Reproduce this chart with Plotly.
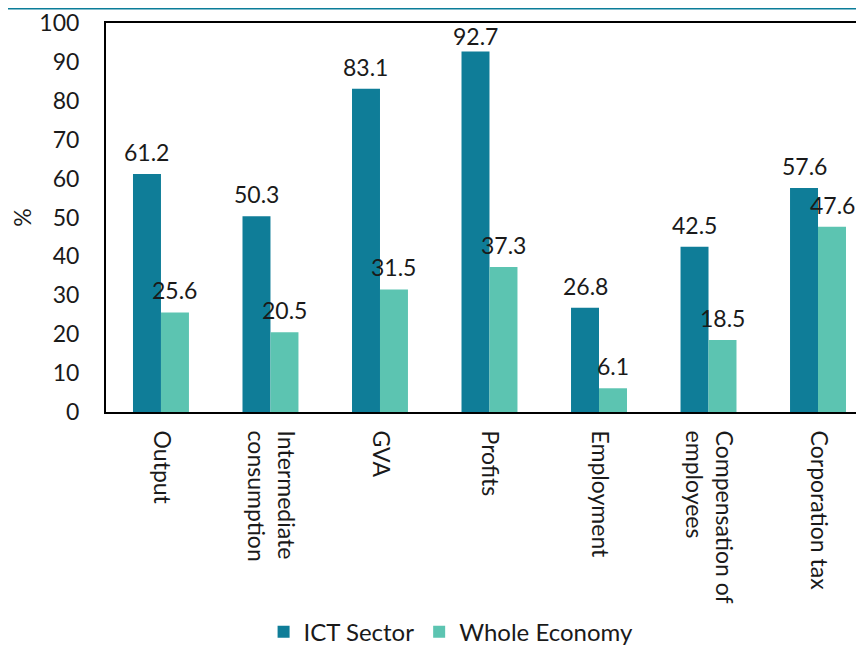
import plotly.graph_objects as go

categories = ["Output", "Intermediate<br>consumption", "GVA", "Profits", "Employment",
              "Compensation of<br>employees", "Corporation tax"]
ict_sector = [61.2, 50.3, 83.1, 92.7, 26.8, 42.5, 57.6]
whole_economy = [25.6, 20.5, 31.5, 37.3, 6.1, 18.5, 47.6]
y_ticks = [0, 10, 20, 30, 40, 50, 60, 70, 80, 90, 100]

ICT_COLOR = "#0f7d98"
WHOLE_COLOR = "#5cc4b1"
FONT = "Lato, 'Open Sans', sans-serif"
TXT = "#1a1a1a"
FS = 23

fig = go.Figure()
fig.add_trace(go.Bar(name="ICT Sector", x=categories, y=ict_sector,
                     marker=dict(color=ICT_COLOR, line=dict(width=0))))
fig.add_trace(go.Bar(name="Whole Economy", x=categories, y=whole_economy,
                     marker=dict(color=WHOLE_COLOR, line=dict(width=0))))

# value labels above each bar (the tallest one is tucked under the frame)
for series, shift in ((ict_sector, -14), (whole_economy, 14)):
    for cat, val in zip(categories, series):
        fig.add_annotation(x=cat, y=val, text=f"{val:.1f}", showarrow=False,
                           xshift=shift, yshift=22 if val < 90 else 15,
                           font=dict(family=FONT, size=FS, color=TXT))

PLOT_H = 389
# teal rule across the top of the page
fig.add_shape(type="line", xref="paper", yref="paper",
              x0=-0.3, x1=1.0, y0=1 + 14.5 / PLOT_H, y1=1 + 14.5 / PLOT_H,
              line=dict(color="#0b7d99", width=2))

fig.update_layout(
    width=864, height=646,
    margin=dict(l=98, r=0, t=15, b=242, autoexpand=False),
    paper_bgcolor="white", plot_bgcolor="white",
    barmode="group", bargap=0.489, bargroupgap=0,
    font=dict(family=FONT, size=FS, color=TXT),
    legend=dict(orientation="h", x=0.4505, xanchor="center", y=-0.566, yanchor="middle",
                font=dict(family=FONT, size=24, color=TXT),
                itemwidth=30, tracegroupgap=0),
    xaxis=dict(range=[-0.502, 6.493], showline=True, linecolor="black", linewidth=2,
               mirror=True, showgrid=False, tickangle=90, ticks="",
               ticklabelstandoff=12, automargin=False,
               tickfont=dict(family=FONT, size=FS, color=TXT)),
    yaxis=dict(range=[0, 100], tickvals=y_ticks, showline=True, linecolor="black",
               linewidth=2, showgrid=False, ticks="", ticklabelstandoff=20,
               zeroline=False, automargin=False,
               tickfont=dict(family=FONT, size=FS, color=TXT),
               title=dict(text="%", standoff=16,
                          font=dict(family=FONT, size=FS, color=TXT))),
    showlegend=True,
)

fig.write_html("out.html")
